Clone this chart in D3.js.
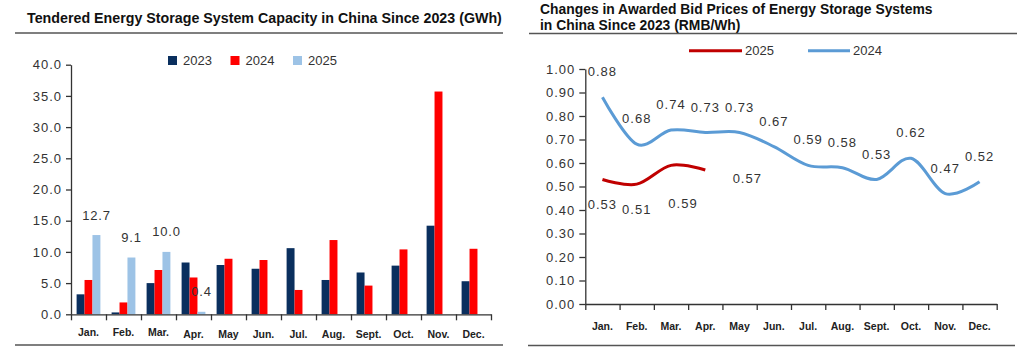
<!DOCTYPE html>
<html><head><meta charset="utf-8">
<script src="https://cdn.jsdelivr.net/npm/d3@7/dist/d3.min.js"></script>
<style>
html,body{margin:0;padding:0;background:#fff;}
svg{display:block;}
</style></head>
<body>
<svg id="c" width="1024" height="359"></svg>
<script>
// ---------- DATA ----------
const months = ["Jan.","Feb.","Mar.","Apr.","May","Jun.","Jul.","Aug.","Sept.","Oct.","Nov.","Dec."];
const capSeries = ["2023","2024","2025"];
const cap2023 = [3.2, 0.3, 5.0, 8.3, 7.9, 7.3, 10.6, 5.5, 6.7, 7.8, 14.2, 5.3];
const cap2024 = [5.5, 1.9, 7.1, 5.9, 8.9, 8.7, 3.9, 11.9, 4.6, 10.4, 35.7, 10.5];
const cap2025 = [12.7, 9.1, 10.0, 0.4, null, null, null, null, null, null, null, null];
const capTicks = [0, 5, 10, 15, 20, 25, 30, 35, 40];

const price2025 = [0.53, 0.51, 0.59, 0.57];
const price2024 = [0.88, 0.68, 0.74, 0.73, 0.73, 0.67, 0.59, 0.58, 0.53, 0.62, 0.47, 0.52];
const priceTicks = [0, 0.1, 0.2, 0.3, 0.4, 0.5, 0.6, 0.7, 0.8, 0.9, 1.0];

const titleLeft = "Tendered Energy Storage System Capacity in China Since 2023 (GWh)";
const titleRight1 = "Changes in Awarded Bid Prices of Energy Storage Systems";
const titleRight2 = "in China Since 2023 (RMB/Wh)";

// ---------- STYLE ----------
const C_NAVY = "#0a2f5e", C_RED = "#ff0000", C_LBLUE = "#9dc3e6";
const C_DRED = "#c00000", C_BLUE = "#5b9bd5";
const TXT = "#333";
const NUMFONT = "'Liberation Sans', Arial, sans-serif";
const TITLEFONT = "'Liberation Sans', Arial, sans-serif";

const svg = d3.select("#c");

function fitText(t, w) {
  const len = t.node().getComputedTextLength();
  const fs = parseFloat(t.attr("font-size"));
  t.attr("font-size", fs * w / len);
  return fs * w / len;
}

// ---------- LEFT CHART ----------
{
  const tl = svg.append("text").attr("x", 27).attr("y", 22.5)
    .attr("font-family", TITLEFONT).attr("font-weight", "bold")
    .attr("font-size", 13).attr("fill", "#111").text(titleLeft);
  fitText(tl, 475);
  svg.append("line").attr("x1", 15).attr("x2", 503).attr("y1", 33).attr("y2", 33)
    .attr("stroke", "#555").attr("stroke-width", 1.5);
  svg.append("line").attr("x1", 15).attr("x2", 503).attr("y1", 345).attr("y2", 345)
    .attr("stroke", "#555").attr("stroke-width", 1.5);

  const x0 = 71, x1e = 491, yb = 314.3, yt = 64.7;
  const x = d3.scaleBand().domain(months).range([x0, x1e]).padding(0);
  const xs = d3.scaleBand().domain(capSeries)
    .range([x.bandwidth() * 0.16, x.bandwidth() * 0.84]).padding(0);
  const y = d3.scaleLinear().domain([0, 40]).range([yb, yt]);
  const cols = {"2023": C_NAVY, "2024": C_RED, "2025": C_LBLUE};
  const vals = {"2023": cap2023, "2024": cap2024, "2025": cap2025};

  const g = svg.append("g");
  capSeries.forEach(s => {
    g.selectAll(null).data(months.map((m, i) => ({m, v: vals[s][i]})).filter(d => d.v != null))
      .enter().append("rect")
      .attr("x", d => x(d.m) + xs(s)).attr("width", xs.bandwidth())
      .attr("y", d => y(d.v)).attr("height", d => y(0) - y(d.v))
      .attr("fill", cols[s]);
  });

  // labels for 2025
  g.selectAll(null).data(months.map((m, i) => ({m, v: cap2025[i]})).filter(d => d.v != null))
    .enter().append("text")
    .attr("x", d => x(d.m) + xs("2025") + xs.bandwidth() / 2)
    .attr("y", d => y(d.v) - 20).attr("dy", "0.35em")
    .attr("text-anchor", "middle").attr("font-family", NUMFONT).attr("font-size", 13)
    .attr("letter-spacing", 0.8).attr("fill", TXT).text(d => d.v.toFixed(1));

  // y axis
  const ya = svg.append("g").attr("transform", `translate(${x0},0)`)
    .call(d3.axisLeft(y).tickValues(capTicks).tickFormat(d3.format(".1f")).tickSize(5).tickPadding(4).tickSizeOuter(0));
  ya.selectAll("text").attr("font-family", NUMFONT).attr("font-size", 13).attr("letter-spacing", 1).attr("fill", TXT);
  ya.selectAll("line,path").attr("stroke", "#333").attr("stroke-width", 1.3);

  // x axis (ticks at band boundaries)
  const xl = d3.scaleLinear().domain([0, 12]).range([x0, x1e]);
  const xa = svg.append("g").attr("transform", `translate(0,${yb})`)
    .call(d3.axisBottom(xl).ticks(12).tickFormat("").tickSize(6).tickSizeOuter(0));
  xa.selectAll("line,path").attr("stroke", "#333").attr("stroke-width", 1.3);

  svg.append("g").selectAll(null).data(months).enter().append("text")
    .attr("x", d => x(d) + x.bandwidth() / 2).attr("y", (d, i) => i < 3 ? 332 : 334.5).attr("dy", "0.35em")
    .attr("text-anchor", "middle").attr("font-family", NUMFONT).attr("font-weight", "bold")
    .attr("font-size", 10.5).attr("fill", "#222").text(d => d);

  // legend
  const lg = svg.append("g");
  capSeries.forEach((s, i) => {
    const lx = 168 + i * 62.5;
    lg.append("rect").attr("x", lx).attr("y", 56).attr("width", 9).attr("height", 9).attr("fill", cols[s]);
    lg.append("text").attr("x", lx + 15).attr("y", 60.5).attr("dy", "0.35em")
      .attr("font-family", NUMFONT).attr("font-size", 13).attr("fill", TXT).text(s);
  });
}

// ---------- RIGHT CHART ----------
{
  const t1 = svg.append("text").attr("x", 540).attr("y", 13.5)
    .attr("font-family", TITLEFONT).attr("font-weight", "bold")
    .attr("font-size", 13).attr("fill", "#111").text(titleRight1);
  const fs = fitText(t1, 393);
  svg.append("text").attr("x", 540).attr("y", 29.5)
    .attr("font-family", TITLEFONT).attr("font-weight", "bold")
    .attr("font-size", fs).attr("fill", "#111").text(titleRight2);
  svg.append("line").attr("x1", 529).attr("x2", 1017).attr("y1", 33.5).attr("y2", 33.5)
    .attr("stroke", "#555").attr("stroke-width", 1.5);
  svg.append("line").attr("x1", 528).attr("x2", 1015).attr("y1", 345.5).attr("y2", 345.5)
    .attr("stroke", "#555").attr("stroke-width", 1.5);

  const x0 = 585.3, x1e = 996.7, yb = 304, yt = 69;
  const x = d3.scaleBand().domain(months).range([x0, x1e]).padding(0);
  const cx = m => x(m) + x.bandwidth() / 2;
  const y = d3.scaleLinear().domain([0, 1]).range([yb, yt]);

  const ya = svg.append("g").attr("transform", `translate(${x0},0)`)
    .call(d3.axisLeft(y).tickValues(priceTicks).tickFormat(d3.format(".2f")).tickSize(6).tickPadding(4).tickSizeOuter(0));
  ya.selectAll("text").attr("font-family", NUMFONT).attr("font-size", 13).attr("letter-spacing", 1).attr("fill", TXT);
  ya.selectAll("line,path").attr("stroke", "#333").attr("stroke-width", 1.3);

  const xl = d3.scaleLinear().domain([0, 12]).range([x0, x1e]);
  const xa = svg.append("g").attr("transform", `translate(0,${yb})`)
    .call(d3.axisBottom(xl).ticks(12).tickFormat("").tickSize(6).tickSizeOuter(0));
  xa.selectAll("line,path").attr("stroke", "#333").attr("stroke-width", 1.3);

  svg.append("g").selectAll(null).data(months).enter().append("text")
    .attr("x", d => cx(d)).attr("y", 326).attr("dy", "0.35em")
    .attr("text-anchor", "middle").attr("font-family", NUMFONT).attr("font-weight", "bold")
    .attr("font-size", 10.5).attr("fill", "#222").text(d => d);

  const line = d3.line().x(d => cx(d.m)).y(d => y(d.v)).curve(d3.curveCardinal.tension(0));
  const d24 = price2024.map((v, i) => ({m: months[i], v}));
  const d25 = price2025.map((v, i) => ({m: months[i], v}));
  svg.append("path").attr("d", line(d24)).attr("fill", "none").attr("stroke", C_BLUE).attr("stroke-width", 3);
  svg.append("path").attr("d", line(d25)).attr("fill", "none").attr("stroke", C_DRED).attr("stroke-width", 3);

  const lbl = (data, off) => svg.append("g").selectAll(null).data(data).enter().append("text")
    .attr("x", (d, i) => cx(d.m) + off(i)[0]).attr("y", (d, i) => y(d.v) + off(i)[1]).attr("dy", "0.35em")
    .attr("text-anchor", "middle").attr("font-family", NUMFONT).attr("font-size", 13)
    .attr("letter-spacing", 1).attr("fill", TXT).text(d => d.v.toFixed(2));
  lbl(d24, i => [0, -25.5]);
  const redOff = [[0, 25], [0, 25], [12, 38], [42, 8]];
  lbl(d25, i => redOff[i]);

  // legend
  const lg = svg.append("g");
  [{s: "2025", c: C_DRED, a: 689, b: 742}, {s: "2024", c: C_BLUE, a: 808, b: 850}].forEach(it => {
    lg.append("line").attr("x1", it.a).attr("x2", it.b).attr("y1", 50.7).attr("y2", 50.7)
      .attr("stroke", it.c).attr("stroke-width", 3);
    lg.append("text").attr("x", it.b + 3).attr("y", 50.7).attr("dy", "0.35em")
      .attr("font-family", NUMFONT).attr("font-size", 13).attr("fill", TXT).text(it.s);
  });
}
</script>
</body></html>
